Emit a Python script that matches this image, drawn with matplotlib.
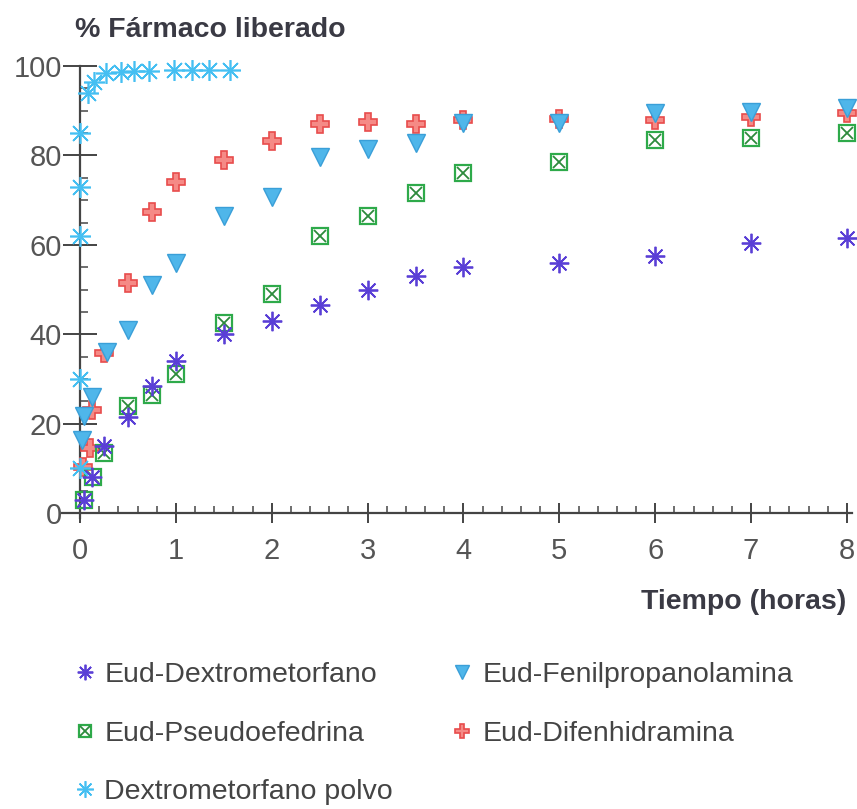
import matplotlib.pyplot as plt
from matplotlib.ticker import MultipleLocator

plt.rcParams['font.family'] = ['Liberation Sans', 'DejaVu Sans']

# tiempos (horas) y % liberado de cada formulacion
t_dextro = [0.04, 0.125, 0.25, 0.5, 0.75, 1, 1.5, 2, 2.5, 3, 3.5, 4, 5, 6, 7, 8]
y_dextro = [3, 8, 15, 21.5, 28.5, 34, 40, 43, 46.5, 50, 53, 55, 56, 57.5, 60.5, 61.5]

t_pseudo = [0.04, 0.14, 0.25, 0.5, 0.75, 1, 1.5, 2, 2.5, 3, 3.5, 4, 5, 6, 7, 8]
y_pseudo = [3, 8, 13.5, 24, 26.5, 31, 42.5, 49, 62, 66.5, 71.5, 76, 78.5, 83.5, 84, 85]

t_fenil = [0.02, 0.04, 0.13, 0.28, 0.5, 0.75, 1, 1.5, 2, 2.5, 3, 3.5, 4, 5, 6, 7, 8]
y_fenil = [16.3, 21.7, 26, 36, 41, 51, 56, 66.4, 70.7, 79.6, 81.4, 82.8, 87.2, 87.2, 89.5, 89.7, 90.6]

t_difen = [0.03, 0.1, 0.13, 0.25, 0.5, 0.75, 1, 1.5, 2, 2.5, 3, 3.5, 4, 5, 6, 7, 8]
y_difen = [10.3, 14.5, 23, 35.8, 51.5, 67.3, 74, 79, 83.2, 87, 87.5, 87, 88, 88.1, 88, 88.6, 89.5]

t_polvo = [0.0, 0.0, 0.0, 0.0, 0.0, 0.08, 0.15, 0.27, 0.43, 0.56, 0.72, 0.98, 1.17, 1.35, 1.56]
y_polvo = [10, 30, 62, 73, 85, 94, 96.5, 98.4, 98.7, 99, 99, 99.2, 99.2, 99.2, 99.2]

fig = plt.figure(figsize=(8.57, 8.09), dpi=100)
ax = fig.add_axes([0.0721, 0.3603, 0.9218, 0.5608])

ast = (8, 2, 0)
difen, = ax.plot(t_difen, y_difen, ls='none', marker='P', ms=13, mfc='#f58a86', mec='#e84c4c',
                 mew=1.2, zorder=3, clip_on=False)
caja, = ax.plot(t_pseudo, y_pseudo, ls='none', marker='s', ms=11, mfc='none', mec='#2eaa4a',
                mew=1.6, zorder=4, clip_on=False)
aspa, = ax.plot(t_pseudo, y_pseudo, ls='none', marker='x', ms=9, mec='#2c8a3c', mew=1.3,
                zorder=4, clip_on=False)
dextro, = ax.plot(t_dextro, y_dextro, ls='none', marker=ast, ms=14, mec='#5a3fd6', mew=1.3,
                  zorder=5, clip_on=False)
fenil, = ax.plot(t_fenil, y_fenil, ls='none', marker='v', ms=13, mfc='#4fb6ea', mec='#3a9fd8',
                 mew=1, zorder=6, clip_on=False)
polvo, = ax.plot(t_polvo, y_polvo, ls='none', marker=ast, ms=15, mec='#45bff2', mew=1.2,
                 zorder=7, clip_on=False)

ax.set_xlim(-0.19, 8.05)
ax.set_ylim(-1, 100.5)
for s in ['top', 'right']:
    ax.spines[s].set_visible(False)
ax.spines['left'].set_position(('data', 0))
ax.spines['bottom'].set_position(('data', 0))
for s in ['left', 'bottom']:
    ax.spines[s].set_color('#444444')
    ax.spines[s].set_linewidth(1.6)
ax.spines['left'].set_bounds(-1, 100)

ax.xaxis.set_major_locator(MultipleLocator(1))
ax.xaxis.set_minor_locator(MultipleLocator(0.2))
ax.yaxis.set_major_locator(MultipleLocator(20))
ax.yaxis.set_minor_locator(MultipleLocator(5))
ax.tick_params(axis='y', which='major', direction='inout', length=24, width=1.4, color='#444444',
               labelsize=21, labelcolor='#555555', pad=1)
ax.tick_params(axis='y', which='minor', direction='in', length=6, width=1.2, color='#555555')
ax.tick_params(axis='x', which='major', direction='inout', length=14, width=1.4, color='#444444',
               labelsize=21, labelcolor='#555555', pad=10)
ax.tick_params(axis='x', which='minor', direction='in', length=5, width=1.2, color='#555555')

fig.text(0.088, 0.963, '% Fármaco liberado', fontsize=20.5, fontweight='bold', color='#3a3a44',
         ha='left', va='center')
fig.text(0.987, 0.256, 'Tiempo (horas)', fontsize=20.5, fontweight='bold', color='#3a3a44',
         ha='right', va='center')

handles = [dextro, (caja, aspa), polvo, fenil, difen]
labels = ['Eud-Dextrometorfano', 'Eud-Pseudoefedrina', 'Dextrometorfano polvo',
          'Eud-Fenilpropanolamina', 'Eud-Difenhidramina']
leg = fig.legend(handles, labels, ncol=2, loc='upper left', bbox_to_anchor=(0.087, 0.182),
                 frameon=False, fontsize=20.5, handlelength=0.7, handletextpad=0.35,
                 labelspacing=1.15, columnspacing=2.08, markerscale=0.8, borderaxespad=0,
                 borderpad=0)
for txt in leg.get_texts():
    txt.set_color('#444444')

fig.savefig('out.png', dpi=100, facecolor='white')
